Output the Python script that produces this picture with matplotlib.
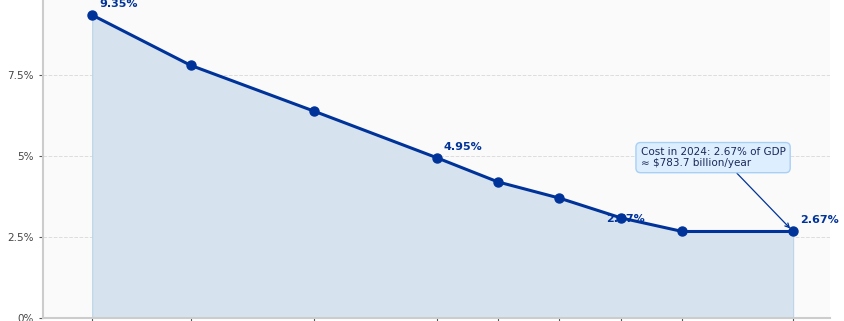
import numpy as np
import matplotlib.pyplot as plt

# data
years = [1967, 1975, 1985, 1995, 2000, 2005, 2010, 2015, 2024]
cost_pct = [9.35, 7.80, 6.39, 4.95, 4.20, 3.70, 3.09, 2.67, 2.67]
yticks = [0, 2.5, 5, 7.5]
# labelled points: (index, text, offset, ha)
labels = [(0, '9.35%', (5, 8), 'left'),
          (3, '4.95%', (5, 8), 'left'),
          (6, '2.67%', (3, -1), 'center'),
          (8, '2.67%', (5, 8), 'left')]
note_text = 'Cost in 2024: 2.67% of GDP\n\u2248 $783.7 billion/year'

line_color = '#003399'

fig = plt.figure(figsize=(8.45, 3.21), dpi=100)
# axes run past the top and bottom edges of the figure, like the cropped reference
ax = fig.add_axes([43 / 845, 3 / 321, 787 / 845, 324 / 321])
ax.set_facecolor('#fafafa')

ax.fill_between(years, cost_pct, 0, facecolor='#d6e2ee', edgecolor='#bcd3e8',
                linewidth=0.8, zorder=1)
ax.plot(years, cost_pct, color=line_color, linewidth=2.2, marker='o',
        markersize=6.5, zorder=3)

for i, txt, off, ha in labels:
    ax.annotate(txt, (years[i], cost_pct[i]), xytext=off, textcoords='offset points',
                ha=ha, va='center', fontsize=8, fontweight='bold', color=line_color,
                zorder=4)

ax.annotate(note_text, xy=(years[-1], cost_pct[-1]), xytext=(2011.6, 4.95),
            fontsize=7.5, color='#1a2a5a', ha='left', va='center', linespacing=1.1,
            bbox=dict(boxstyle='round,pad=0.45', facecolor='#ddeeff',
                      edgecolor='#a8d0f5', linewidth=1),
            arrowprops=dict(arrowstyle='->', color=line_color, linewidth=0.9,
                            shrinkA=0, shrinkB=3, relpos=(0.63, 0)),
            zorder=5)

ax.set_xlim(1963, 2027)
ax.set_ylim(0, 10)
ax.set_xticks(years)
ax.set_xticklabels([])
ax.set_yticks(yticks)
ax.set_yticklabels(['{:g}%'.format(v) for v in yticks])
ax.tick_params(axis='both', labelsize=7.5, labelcolor='#444444', color='#555555',
               length=3, width=0.8)
ax.grid(axis='y', linestyle='--', color='#dddddd', linewidth=0.7)
ax.set_axisbelow(True)

for side in ['top', 'right']:
    ax.spines[side].set_visible(False)
for side in ['left', 'bottom']:
    ax.spines[side].set_color('#cccccc')
    ax.spines[side].set_linewidth(1.5)

fig.savefig('out.png', dpi=100)
